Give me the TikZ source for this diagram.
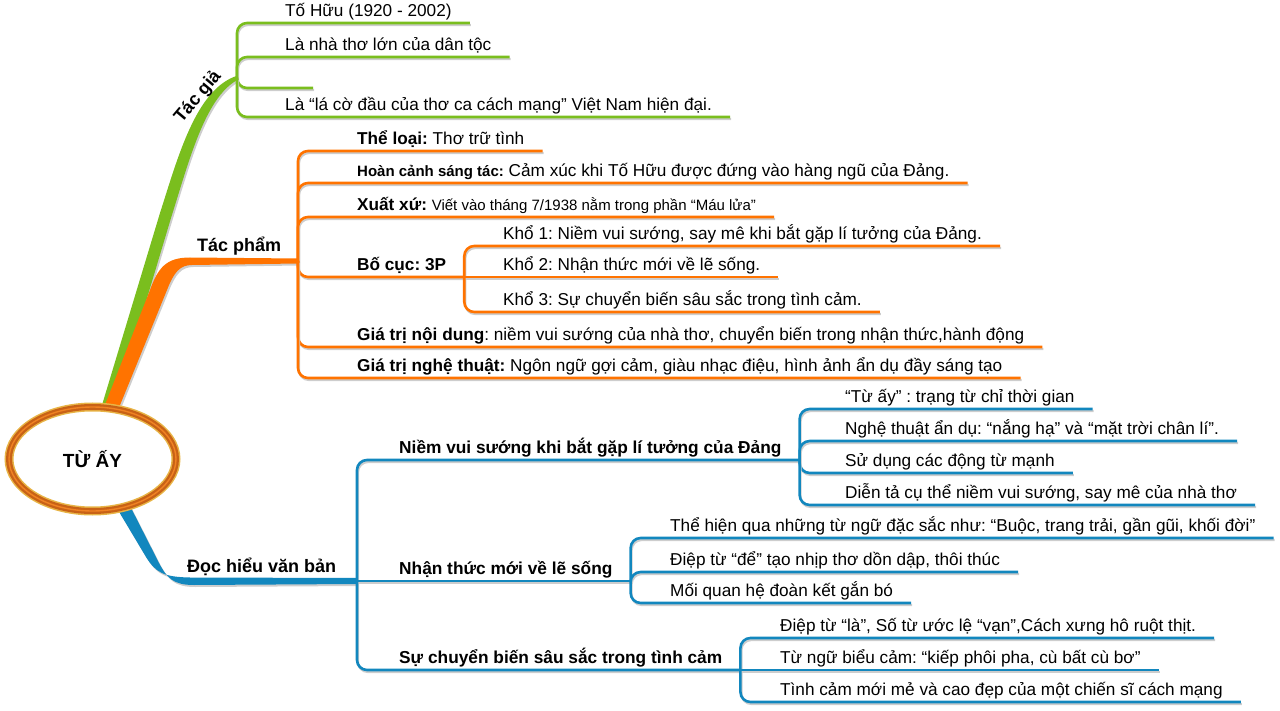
\documentclass[tikz,border=0pt]{standalone}
\usepackage{fontspec}
\setmainfont{Liberation Sans}
\usetikzlibrary{positioning,shapes.geometric}
\definecolor{tgcol}{RGB}{122,190,30}
\definecolor{tpcol}{RGB}{255,115,0}
\definecolor{dhcol}{RGB}{18,135,190}
\definecolor{shade}{RGB}{205,205,205}
\definecolor{ring}{RGB}{200,98,22}
\definecolor{gold}{RGB}{232,180,70}
\definecolor{ringlight}{RGB}{240,130,35}
\frenchspacing

\begin{document}
\begin{tikzpicture}[x=1pt,y=-1pt,
    font=\fontsize{17.2}{20}\selectfont,
    item/.style={anchor=south west,inner xsep=0pt,inner ysep=2.5pt,text height=12.5pt,text depth=4pt,execute at end node={\hspace*{18pt}}},
    head/.style={item,font=\bfseries\fontsize{17.3}{20}\selectfont},
    lbl/.style={inner sep=0pt,font=\bfseries\fontsize{18}{21}\selectfont},
    bar/.style={line width=2.6pt,rounded corners=10pt,to path={|- (\tikztotarget)},
      preaction={draw=shade,line width=2.2pt,transform canvas={shift={(1pt,-2pt)}}}},
    flat/.style={to path={-- (\tikztotarget)}},
    gbar/.style={bar,draw=tgcol},
    obar/.style={bar,draw=tpcol},
    bbar/.style={bar,draw=dhcol},
    limb/.style={preaction={fill=shade,transform canvas={shift={(1.5pt,-2pt)}}}},
    root/.style={ellipse,fill=white,draw=gold,line width=9pt,minimum width=167pt,minimum height=104pt,
      postaction={draw=ring,line width=6pt},postaction={draw=ringlight,line width=1.4pt},
      font=\bfseries\fontsize{19}{22}\selectfont}]
  \useasboundingbox (0,0) rectangle (1280,711);
  \coordinate (gj)  at (237,78);
  \coordinate (tpj) at (298,261);
  \coordinate (dhj) at (357,581);
  \coordinate (g3)  at (313,88);

  \fill[tgcol,limb] (99,415) -- (160,213) .. controls (178,157) and (196,89) .. ([yshift=2.2pt]gj)
    -- ([yshift=-2.2pt]gj) .. controls (205,98) and (189,161) .. (171,218) -- (112,415) -- cycle;
  \fill[tpcol,limb] (101,415) -- (150,290) .. controls (158,268) and (166,257.5) .. (190,257.5)
    -- ([yshift=2.5pt]tpj) -- ([yshift=-2.5pt]tpj) -- (192,265) .. controls (180,265) and (174,272) .. (167,290) -- (116,415) -- cycle;
  \fill[dhcol,limb] (112,500) -- (146,557) .. controls (156,573) and (164,577) .. (190,577.5)
    -- ([yshift=3pt]dhj) -- ([yshift=-3pt]dhj) -- (194,585) .. controls (173,585) and (167,578) .. (159,563) -- (127,500) -- cycle;

  \node[root] (root) at (92.5,459) {TỪ ẤY};
  \node[lbl,rotate=50] (tg) at (198,97) {Tác giả};
  \node[lbl,anchor=base west] (tp) at (197,252) {Tác phẩm};
  \node[lbl,anchor=base west] (dh) at (187,572) {Đọc hiểu văn bản};

  \node[item] (tg1) at (285,23) {Tố Hữu (1920 - 2002)};
  \node (tg2) [below=34pt of tg1.south west,item] {Là nhà thơ lớn của dân tộc};
  \node (tg4) [below=60pt of tg2.south west,item] {Là “lá cờ đầu của thơ ca cách mạng” Việt Nam hiện đại.};

  \node[item] (tp1) at (357,151) {\textbf{Thể loại:} Thơ trữ tình};
  \node (tp2) [below=32pt of tp1.south west,item] {{\bfseries\fontsize{15}{18}\selectfont Hoàn cảnh sáng tác:} Cảm xúc khi Tố Hữu được đứng vào hàng ngũ của Đảng.};
  \node (tp3) [below=34pt of tp2.south west,item] {\textbf{Xuất xứ:} {\fontsize{15}{18}\selectfont Viết vào tháng 7/1938 nằm trong phần “Máu lửa”}};
  \node (bc)  [below=60pt of tp3.south west,item] {\textbf{Bố cục: 3P}};
  \node (tp5) [below=70pt of bc.south west,item] {\textbf{Giá trị nội dung}: niềm vui sướng của nhà thơ, chuyển biến trong nhận thức,hành động};
  \node (tp6) [below=31pt of tp5.south west,item] {\textbf{Giá trị nghệ thuật:} Ngôn ngữ gợi cảm, giàu nhạc điệu, hình ảnh ẩn dụ đầy sáng tạo};
  \node[item] (k1) at (503,246) {Khổ 1: Niềm vui sướng, say mê khi bắt gặp lí tưởng của Đảng.};
  \node (k2) [below=31pt of k1.south west,item] {Khổ 2: Nhận thức mới về lẽ sống.};
  \node (k3) [below=35pt of k2.south west,item] {Khổ 3: Sự chuyển biến sâu sắc trong tình cảm.};

  \node[head] (nv) at (399,460) {Niềm vui sướng khi bắt gặp lí tưởng của Đảng};
  \node (nt) [below=121pt of nv.south west,head] {Nhận thức mới về lẽ sống};
  \node (sc) [below=89pt of nt.south west,head] {Sự chuyển biến sâu sắc trong tình cảm};
  \node[item] (v1) at (845,409) {“Từ ấy” : trạng từ chỉ thời gian};
  \node (v2) [below=32pt of v1.south west,item] {Nghệ thuật ẩn dụ: “nắng hạ” và “mặt trời chân lí”.};
  \node (v3) [below=32pt of v2.south west,item] {Sử dụng các động từ mạnh};
  \node (v4) [below=32pt of v3.south west,item] {Diễn tả cụ thể niềm vui sướng, say mê của nhà thơ};
  \node[item] (n1) at (670,538) {Thể hiện qua những từ ngữ đặc sắc như: “Buộc, trang trải, gần gũi, khối đời”};
  \node (n2) [below=34pt of n1.south west,item] {Điệp từ “để” tạo nhịp thơ dồn dập, thôi thúc};
  \node (n3) [below=31pt of n2.south west,item] {Mối quan hệ đoàn kết gắn bó};
  \node[item] (s1) at (780,638) {Điệp từ “là”, Số từ ước lệ “vạn”,Cách xưng hô ruột thịt.};
  \node (s2) [below=32pt of s1.south west,item] {Từ ngữ biểu cảm: “kiếp phôi pha, cù bất cù bơ”};
  \node (s3) [below=32pt of s2.south west,item] {Tình cảm mới mẻ và cao đẹp của một chiến sĩ cách mạng};

  \path (gj) edge[gbar] (tg1.south east) edge[gbar] (tg2.south east)
             edge[gbar] (g3) edge[gbar] (tg4.south east);
  \path (tpj) edge[obar] (tp1.south east) edge[obar] (tp2.south east) edge[obar] (tp3.south east)
              edge[obar] (bc.south east) edge[obar] (tp5.south east) edge[obar] (tp6.south east);
  \path (bc.south east) edge[obar] (k1.south east) edge[obar,flat] (k2.south east) edge[obar] (k3.south east);
  \path (dhj) edge[bbar] (nv.south east) edge[bbar,flat] (nt.south east) edge[bbar] (sc.south east);
  \path (nv.south east) edge[bbar] (v1.south east) edge[bbar] (v2.south east)
                        edge[bbar] (v3.south east) edge[bbar] (v4.south east);
  \path (nt.south east) edge[bbar] (n1.south east) edge[bbar] (n2.south east) edge[bbar] (n3.south east);
  \path (sc.south east) edge[bbar] (s1.south east) edge[bbar,flat] (s2.south east) edge[bbar] (s3.south east);
\end{tikzpicture}
\end{document}
